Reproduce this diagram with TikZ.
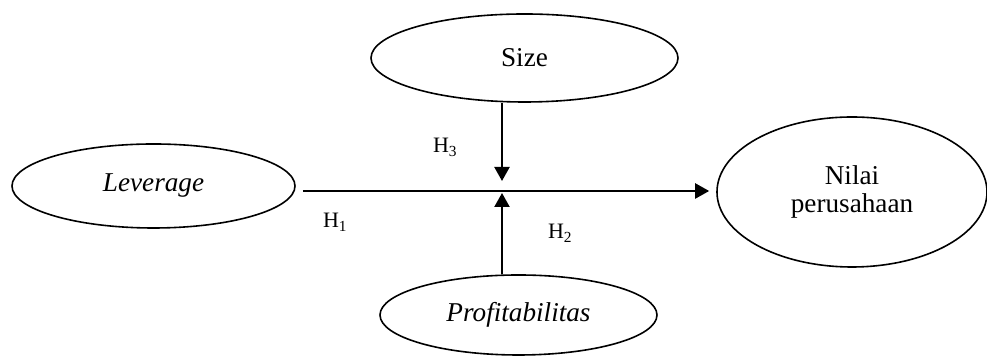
\documentclass[tikz,border=0pt]{standalone}
\usepackage{fontspec}
\setmainfont{Liberation Serif}
\usepackage{tikz}
\usetikzlibrary{arrows.meta}
\usetikzlibrary{shapes.geometric}
\usetikzlibrary{positioning}

\begin{document}
\begin{tikzpicture}[x=0.5pt,y=-0.5pt,>={Triangle[length=7pt,width=7.5pt]},line width=1.1pt,
    var/.style={shape=ellipse,draw=black,line width=0.8pt,inner sep=0pt,font=\fontsize{13.6}{14}\selectfont,align=center},
    hyp/.style={anchor=base west,inner sep=0pt,font=\fontsize{11}{12}\selectfont}]
        \useasboundingbox (0,0) rectangle (987,356);

            % Variables
            \node[var,minimum width=141.5pt,minimum height=42pt] (lev) at (153.5,186) {\textit{Leverage}};
            \node[var,minimum width=153.5pt,minimum height=44pt] (size) at (524.5,58) {Size};
            \node[var,minimum width=135pt,minimum height=75pt] (nilai) at (852,192) {Nilai\\perusahaan};
            \node[var,minimum width=138.5pt,minimum height=40pt] (prof) at (518.5,315) {\textit{Profitabilitas}};

            % Junction on the main path
            \coordinate (junc) at (502,191);

            % Arrows
            \path[->] (lev.east |- junc) edge[shorten <=3.5pt,shorten >=3.5pt] (nilai.west |- junc);
            \path[->] (junc |- size.south) edge[shorten >=5pt] (junc);
            \path[->] (junc |- prof.north) edge[shorten >=1pt] (junc);

            % Hypotheses
            \node[hyp] (h1) at (322,228) {H\textsubscript{1}};
            \node[hyp] (h2) at (547,239) {H\textsubscript{2}};
            \node[hyp] (h3) at (432,153) {H\textsubscript{3}};

        \end{tikzpicture}
\end{document}
